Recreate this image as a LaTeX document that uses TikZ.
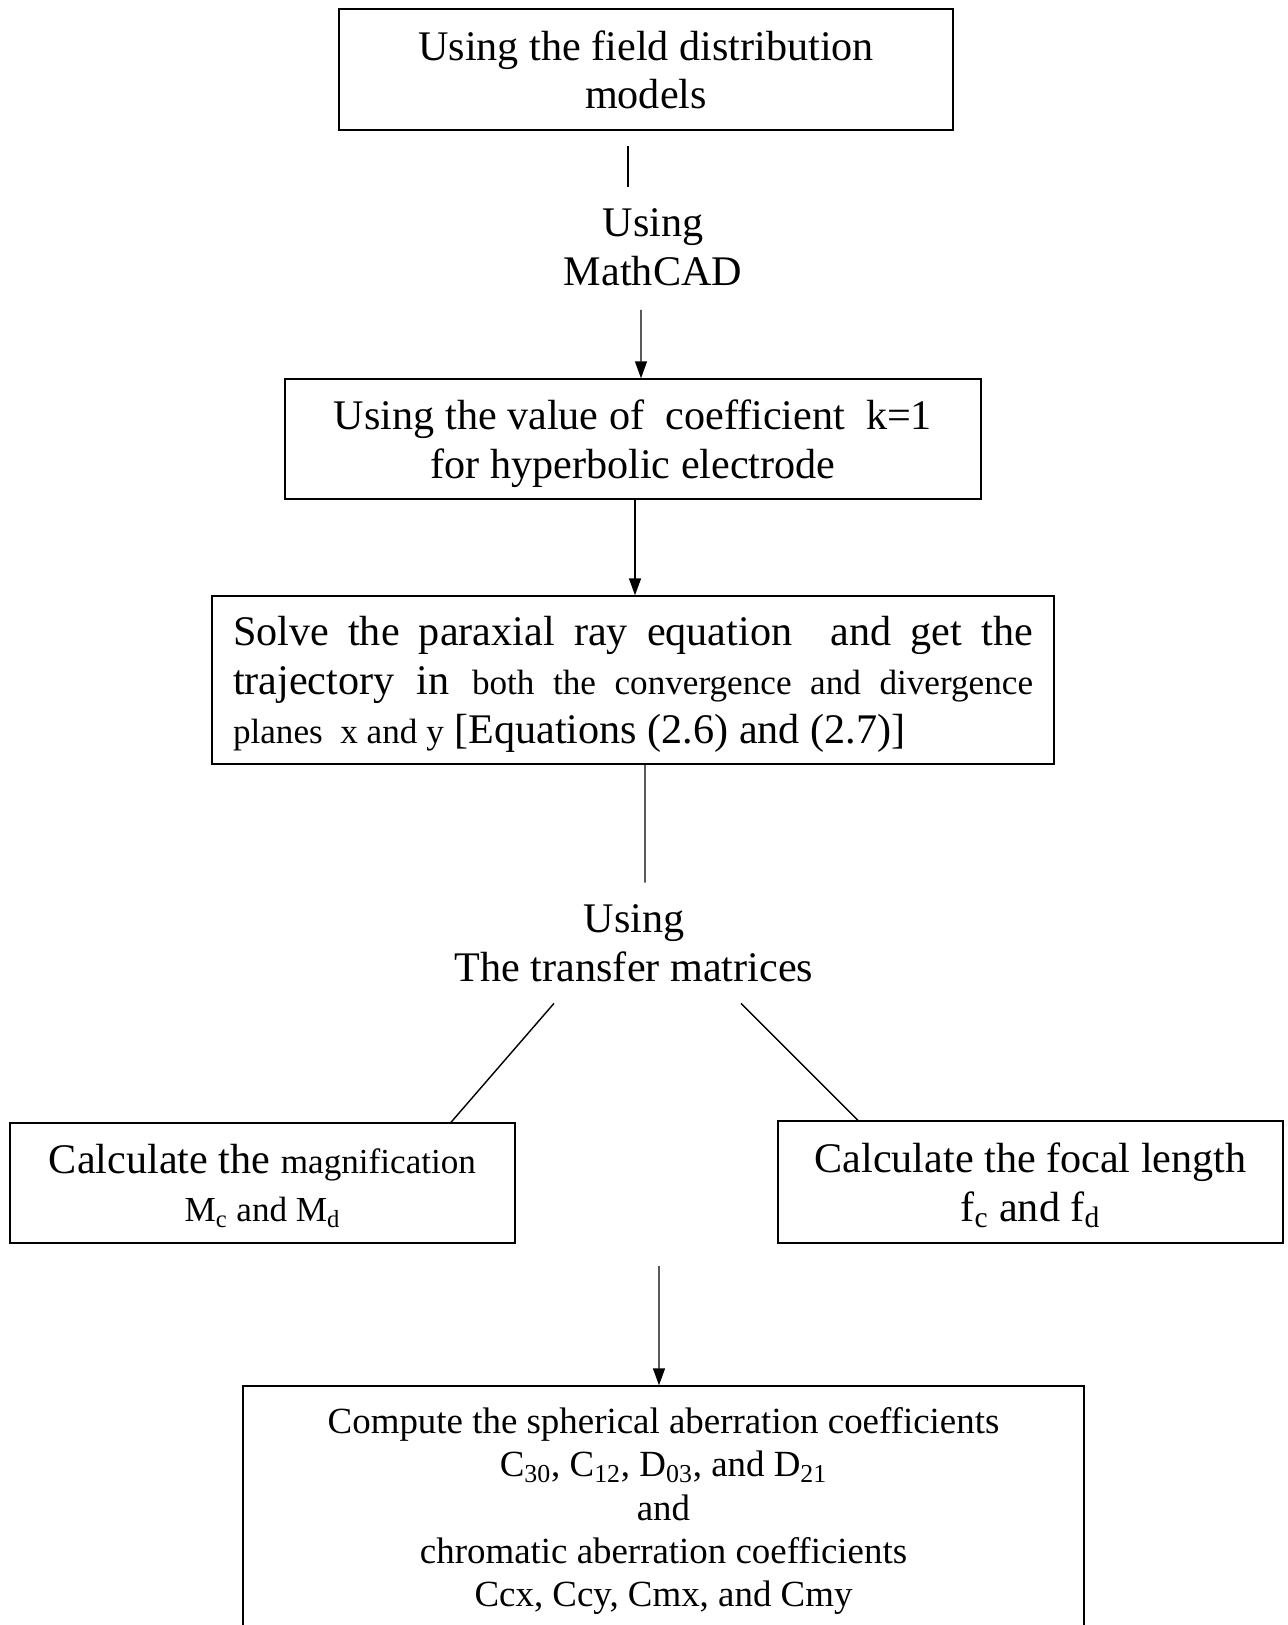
\documentclass[tikz,border=0pt]{standalone}
\usepackage{fontspec}
\setmainfont{Liberation Serif}
\usetikzlibrary{arrows.meta, positioning}

\newcommand{\fbig}{\fontsize{24}{27.7}\selectfont}
\newcommand{\fsml}{\fontsize{20}{24}\selectfont}
\newcommand{\fmid}{\fontsize{21}{24.7}\selectfont}

\begin{document}
\begin{tikzpicture}[
  %% Node styles
  pblock/.style={draw, line width=0.8pt, align=center, inner sep=0pt, text depth=0pt, font=\fbig},
  lbl/.style   ={inner sep=0pt, align=center, font=\fbig},
  %% Connectors
  arr/.style={-{Triangle[length=0.34cm, width=0.24cm]}, line width=0.8pt},
  lnk/.style={line width=0.8pt}
]
\fill[white] (0,0) rectangle (25.74,-32.5);
\clip (0,0) rectangle (25.74,-32.5);

%% ── FIELD MODELS ──────────────────────────────────────────────
\node[pblock, minimum width=12.28cm, minimum height=2.42cm] (field) at (12.92,-1.39)
  {Using the field distribution\\models};
\node[lbl] (mathcad) at (13.06,-4.94) {Using\\MathCAD};

\draw[lnk] ([xshift=-0.36cm,yshift=-0.3cm]field.south)
  -- ([xshift=-0.5cm,yshift=0.43cm]mathcad.north);

%% ── COEFFICIENT k ─────────────────────────────────────────────
\node[pblock, minimum width=13.92cm, minimum height=2.4cm] (kval) at (12.66,-8.78)
  {Using the value of\ \ coefficient\ \ k=1\\for hyperbolic electrode};

\draw[arr] ([xshift=-0.24cm,yshift=-0.48cm]mathcad.south) -- ([xshift=0.16cm]kval.north);

%% ── PARAXIAL RAY EQUATION ─────────────────────────────────────
\node[pblock, minimum width=16.84cm, minimum height=3.36cm, text width=16cm,
      align=justify, text depth=55.4pt] (paraxial) at (12.66,-13.6)
  {Solve the paraxial ray equation\ \ and get the\linebreak
   trajectory in {\fsml both the convergence and divergence}\linebreak
   {\fsml planes\ \ x and y} [Equations (2.6) and (2.7)]};

\draw[arr] ([xshift=0.04cm]kval.south) -- ([xshift=0.04cm]paraxial.north);

%% ── TRANSFER MATRICES ─────────────────────────────────────────
\node[lbl] (transfer) at (12.68,-18.87) {Using\\The transfer matrices};

\draw[lnk] ([xshift=0.24cm]paraxial.south) -- ([xshift=0.22cm,yshift=0.44cm]transfer.north);

%% ── MAGNIFICATION / FOCAL LENGTH ──────────────────────────────
\node[pblock, minimum width=10.1cm, minimum height=2.4cm] (magn) at (5.25,-23.66)
  {Calculate the {\fsml magnification}\\{\fsml M\textsubscript{c} and M\textsubscript{d}}};
\node[pblock, minimum width=10.1cm, minimum height=2.44cm] (focal) at (20.61,-23.64)
  {Calculate the focal length\\f\textsubscript{c} and f\textsubscript{d}};

\draw[lnk] ([xshift=-1.6cm,yshift=-0.42cm]transfer.south) -- ([xshift=3.77cm]magn.north);
\draw[lnk] ([xshift=2.14cm,yshift=-0.42cm]transfer.south) -- ([xshift=-3.45cm]focal.north);

%% ── ABERRATION COEFFICIENTS ───────────────────────────────────
\node[pblock, font=\fmid, minimum width=16.82cm, minimum height=4.84cm] (aber) at (13.27,-30.14)
  {Compute the spherical aberration coefficients\\
   C\textsubscript{30}, C\textsubscript{12}, D\textsubscript{03}, and D\textsubscript{21}\\
   and\\
   chromatic aberration coefficients\\
   Ccx, Ccy, Cmx, and Cmy};

\coordinate (aberTop) at (13.18,-25.32);
\draw[arr] (aberTop) -- ([xshift=-0.09cm]aber.north);

\end{tikzpicture}
\end{document}
